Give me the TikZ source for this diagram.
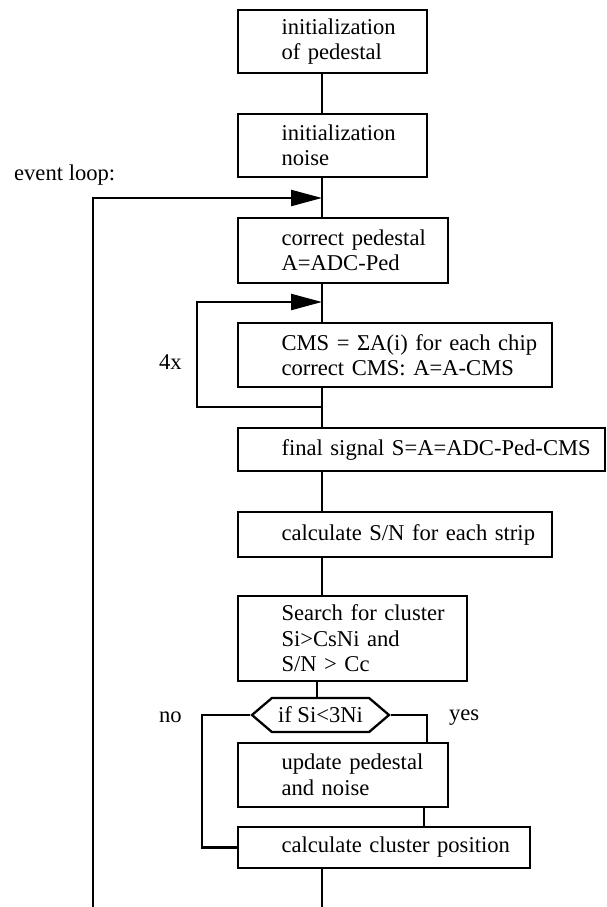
\documentclass[tikz,border=0pt]{standalone}
\usepackage{fontspec}
\setmainfont{Liberation Serif}
\usetikzlibrary{arrows.meta,shapes.symbols}
\newcommand\figfont{\fontsize{22.6pt}{25.5pt}\selectfont}
\begin{document}
\begin{tikzpicture}[x=1pt,y=-1pt,line width=2.3pt,
  box/.style={draw, rectangle, inner xsep=0pt, inner ysep=2pt, align=left, font=\figfont,
    execute at begin node={\leftskip=43.5pt\relax}},
  hexa/.style={draw, shape=signal, signal to=west and east, signal pointer angle=81,
    inner xsep=0pt, inner ysep=0pt, minimum width=137pt, minimum height=34pt, font=\figfont},
  lbl/.style={anchor=west, inner sep=0pt, font=\figfont},
  arr/.style={-{Triangle[length=31pt,width=16pt]}}]
\useasboundingbox (0,0) rectangle (606,907);
% guide coordinates
\coordinate (mx) at (322,0);
\coordinate (sx) at (317,0);
\coordinate (yx) at (427,0);
\coordinate (ux) at (424,0);
\coordinate (nx) at (202,0);
% boxes
\node[box, text width=189pt, minimum height=63pt] (b1) at (332.5,41.5) {initialization\\of pedestal};
\node[box, text width=189pt, minimum height=63pt] (b2) at (332.5,145.5) {initialization\\noise};
\node[box, text width=210pt, minimum height=65pt] (b3) at (343,250.5) {correct pedestal\\A=ADC-Ped};
\node[box, text width=314pt, minimum height=64pt] (b4) at (395,355) {CMS = ΣA(i) for each chip\\correct CMS: A=A-CMS};
\node[box, text width=367pt, minimum height=43pt] (b5) at (421.5,449.5) {final signal S=A=ADC-Ped-CMS};
\node[box, text width=314pt, minimum height=45pt] (b6) at (395,534.5) {calculate S/N for each strip};
\node[box, text width=229pt, minimum height=85pt] (b7) at (352.5,638.5) {Search for cluster\\Si>CsNi and\\S/N > Cc};
\node[hexa] (hx) at (320.5,715) {if Si<3Ni};
\node[box, text width=210pt, minimum height=64pt] (b8) at (343,775) {update pedestal\\and noise};
\node[box, text width=292pt, minimum height=41pt] (b9) at (384,847.5) {calculate cluster position};
% labels
\node[lbl] (el) at (13,175) {event loop:};
\node[lbl] (fx) at (158,362) {4x};
\node[lbl] (no) at (158,717) {no};
\node[lbl] (yes) at (448,718) {yes};
% free ends
\coordinate (bt) at (322,907);
\coordinate (el0) at (93,907);
\coordinate (el1) at (93,198);
\coordinate (lpa) at (197,407);
\coordinate (lpb) at (197,302);
% connectors
\draw (b1.south -| mx) -- (b2.north -| mx);
\draw (b2.south -| mx) -- (b3.north -| mx);
\draw (b3.south -| mx) -- (b4.north -| mx);
\draw (b4.south -| mx) -- (b5.north -| mx);
\draw (b5.south -| mx) -- (b6.north -| mx);
\draw (b6.south -| mx) -- (b7.north -| mx);
\draw (b7.south -| sx) -- (hx.north -| sx);
\draw (hx.east) -- (hx.east -| yx) -- (b8.north -| yx);
\draw (hx.west) -- (hx.west -| nx) -- (b9.west -| nx) -- (b9.west);
\draw (b8.south -| ux) -- (b9.north -| ux);
\draw (b9.south -| mx) -- (bt);
\draw[arr] (el0) -- (el1) -- (el1 -| mx);
\draw[arr] (lpa -| mx) -- (lpa) -- (lpb) -- (lpb -| mx);
\end{tikzpicture}
\end{document}
